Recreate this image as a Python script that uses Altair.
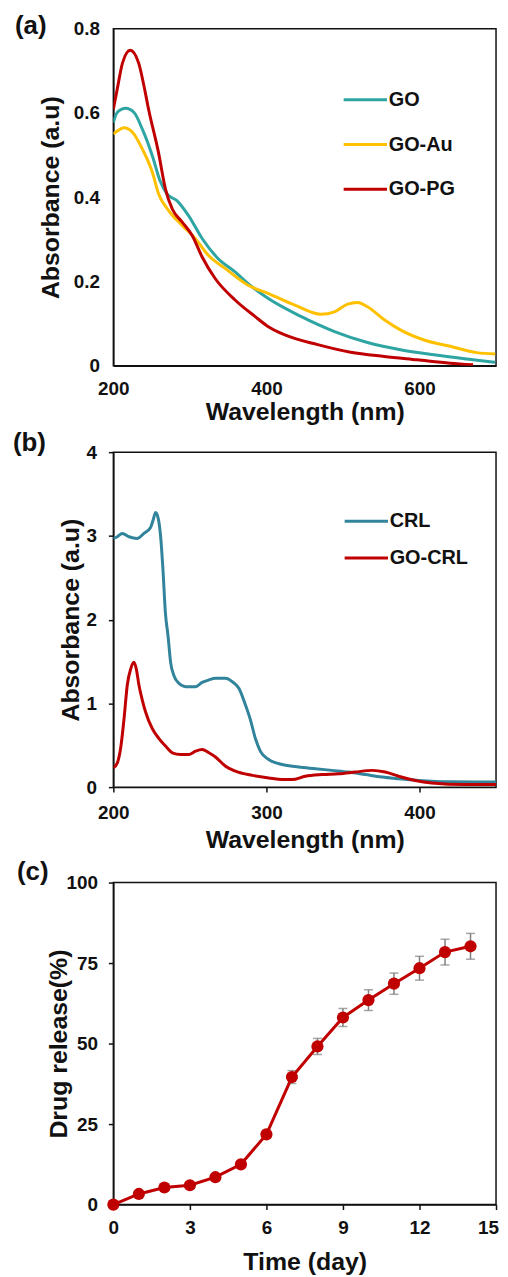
import altair as alt
import pandas as pd

FONT = "Liberation Sans"

# ---------------- Panel (a) ----------------
a_series = ["GO", "GO-Au", "GO-PG"]
a_colors = ["#2EA5A3", "#FFC000", "#C00000"]

go_wl = [200, 205, 216, 227, 238, 251, 261, 270, 283, 298, 316, 337, 359, 376, 402,
         445, 489, 532, 575, 619, 662, 699]
go_abs = [0.577, 0.601, 0.611, 0.601, 0.561, 0.498, 0.439, 0.408, 0.392, 0.357, 0.302,
          0.254, 0.223, 0.195, 0.160, 0.117, 0.081, 0.055, 0.038, 0.026, 0.016, 0.008]

goau_wl = [200, 205, 214, 225, 238, 251, 259, 272, 290, 307, 324, 346, 376, 402, 437,
           471, 489, 506, 519, 532, 554, 575, 606, 640, 675, 699]
goau_abs = [0.550, 0.557, 0.565, 0.554, 0.514, 0.459, 0.408, 0.369, 0.333, 0.302, 0.262,
            0.231, 0.191, 0.172, 0.144, 0.122, 0.128, 0.146, 0.150, 0.140, 0.109, 0.085,
            0.061, 0.046, 0.031, 0.028]

gopg_wl = [200, 205, 212, 222, 233, 240, 246, 259, 268, 277, 290, 303, 316, 333, 359,
           385, 402, 424, 467, 510, 554, 597, 640, 670]
gopg_abs = [0.609, 0.656, 0.719, 0.749, 0.719, 0.664, 0.609, 0.506, 0.420, 0.372, 0.341,
            0.309, 0.258, 0.207, 0.156, 0.117, 0.093, 0.073, 0.050, 0.032, 0.022, 0.014,
            0.006, 0.002]

# ---------------- Panel (b) ----------------
b_series = ["CRL", "GO-CRL"]
b_colors = ["#31849B", "#C00000"]

crl_wl = [200, 202.6, 205.9, 210.2, 215.7, 220, 224.3, 226, 227.6, 229.3, 230.9, 232.4,
          234, 235.7, 237.4, 239.6, 242.8, 247.2, 253.7, 258, 262.4, 266.7, 273.3, 277.6,
          282, 286.3, 289.6, 292.8, 296, 301.5, 310.2, 321, 332, 342.8, 353.7, 364.6,
          375.4, 386.3, 399.3, 418.9, 450]
crl_abs = [2.97, 2.99, 3.03, 2.99, 2.97, 3.03, 3.10, 3.19, 3.28, 3.21, 2.99, 2.60, 2.08,
           1.81, 1.49, 1.33, 1.24, 1.20, 1.20, 1.25, 1.28, 1.30, 1.30, 1.26, 1.18, 0.98,
           0.80, 0.58, 0.43, 0.33, 0.27, 0.24, 0.22, 0.20, 0.18, 0.15, 0.12, 0.10, 0.08,
           0.063, 0.06]

gocrl_wl = [200, 202.6, 204.8, 207, 209.1, 211.3, 213.5, 215, 216.7, 218.9, 221, 225.4,
            229.8, 234.1, 238.5, 243.9, 249.3, 253.7, 258, 262.4, 266.7, 273.3, 279.8,
            290.7, 301.5, 310.2, 316.7, 325.4, 336.3, 347.2, 358, 369, 377.6, 386.3,
            397.2, 408, 429.8, 450]
gocrl_abs = [0.23, 0.29, 0.47, 0.82, 1.22, 1.41, 1.49, 1.41, 1.22, 1.04, 0.90, 0.70, 0.58,
             0.49, 0.41, 0.39, 0.39, 0.43, 0.45, 0.41, 0.36, 0.25, 0.19, 0.14, 0.11, 0.09,
             0.09, 0.13, 0.15, 0.16, 0.18, 0.20, 0.18, 0.13, 0.08, 0.05, 0.03, 0.03]

# ---------------- Panel (c) ----------------
days = [0, 1, 2, 3, 4, 5, 6, 7, 8, 9, 10, 11, 12, 13, 14]
release = [0, 3.3, 5.3, 6.0, 8.5, 12.5, 21.8, 39.6, 49.1, 58.1, 63.5, 68.6, 73.4, 78.4, 80.2]
release_err = [0, 0.6, 0.6, 0.6, 0.8, 1.0, 1.2, 2.0, 2.5, 2.8, 3.2, 3.3, 3.7, 4.0, 4.0]

RED = "#C00000"


def frame(names, wls, vals):
    return pd.concat(
        [pd.DataFrame({"wl": w, "abs": v, "series": n}) for n, w, v in zip(names, wls, vals)],
        ignore_index=True,
    )


def panel_label(text, dx, dy):
    return alt.Chart(pd.DataFrame({"t": [text]})).mark_text(
        font=FONT, fontSize=26, fontWeight="bold", align="left", baseline="middle", color="#111"
    ).encode(text="t:N", x=alt.value(dx), y=alt.value(dy))


def spectra_legend(x, y, row_pad):
    return alt.Legend(
        orient="none", legendX=x, legendY=y, title=None, symbolType="stroke",
        symbolSize=1900, symbolStrokeWidth=3, labelFont=FONT, labelFontSize=20,
        labelFontWeight="bold", labelColor="#111", labelOffset=0, rowPadding=row_pad,
        padding=0,
    )


# Panel (a)
df_a = frame(a_series, [go_wl, goau_wl, gopg_wl], [go_abs, goau_abs, gopg_abs])
lines_a = alt.Chart(df_a).mark_line(strokeWidth=3, interpolate="monotone", clip=True).encode(
    x=alt.X("wl:Q", scale=alt.Scale(domain=[200, 700], nice=False),
            axis=alt.Axis(values=[200, 400, 600], title="Wavelength (nm)", ticks=False,
                          tickSize=0, labelPadding=14, titlePadding=1)),
    y=alt.Y("abs:Q", scale=alt.Scale(domain=[0, 0.8], nice=False),
            axis=alt.Axis(values=[0, 0.2, 0.4, 0.6, 0.8], format="~g", title="Absorbance (a.u)",
                          ticks=False, tickSize=0, labelPadding=14, titlePadding=10)),
    color=alt.Color("series:N", scale=alt.Scale(domain=a_series, range=a_colors),
                    sort=a_series, legend=spectra_legend(230, 48, 11)),
)
chart_a = alt.layer(lines_a, panel_label("(a)", -99, -3)).properties(width=385, height=339)

# Panel (b)
df_b = frame(b_series, [crl_wl, gocrl_wl], [crl_abs, gocrl_abs])
lines_b = alt.Chart(df_b).mark_line(strokeWidth=3, interpolate="monotone", clip=True).encode(
    x=alt.X("wl:Q", scale=alt.Scale(domain=[200, 450], nice=False),
            axis=alt.Axis(values=[200, 300, 400], title="Wavelength (nm)", tickSize=5,
                          labelPadding=12, titlePadding=5)),
    y=alt.Y("abs:Q", scale=alt.Scale(domain=[0, 4], nice=False),
            axis=alt.Axis(values=[0, 1, 2, 3, 4], title="Absorbance (a.u)", tickSize=5,
                          labelPadding=12, titlePadding=3)),
    color=alt.Color("series:N", scale=alt.Scale(domain=b_series, range=b_colors),
                    sort=b_series, legend=spectra_legend(231, 46, 3)),
)
chart_b = alt.layer(lines_b, panel_label("(b)", -101, -9)).properties(width=385, height=337)

# Panel (c)
df_c = pd.DataFrame({"day": days, "rel": release, "err": release_err})
df_c["lo"] = df_c["rel"] - df_c["err"]
df_c["hi"] = df_c["rel"] + df_c["err"]

xc = alt.X("day:Q", scale=alt.Scale(domain=[0, 15], nice=False),
           axis=alt.Axis(values=[0, 3, 6, 9, 12, 15], title="Time (day)", tickSize=5,
                         labelPadding=9, titlePadding=12,
                         labelOffset={"condition": {"test": "datum.value == 15", "value": -8},
                                      "value": 0}))
yc_axis = alt.Axis(values=[0, 25, 50, 75, 100], title="Drug release(%)", tickSize=5,
                   labelPadding=11, titlePadding=-6)
base_c = alt.Chart(df_c)
err_rule = base_c.mark_rule(color="#7F7F7F", strokeWidth=1.5).encode(
    x=xc, y=alt.Y("lo:Q", scale=alt.Scale(domain=[0, 100], nice=False), axis=yc_axis),
    y2="hi:Q")
cap_lo = base_c.mark_tick(color="#7F7F7F", orient="horizontal", size=9, thickness=1.5).encode(
    x=xc, y="lo:Q")
cap_hi = base_c.mark_tick(color="#7F7F7F", orient="horizontal", size=9, thickness=1.5).encode(
    x=xc, y="hi:Q")
line_c = base_c.mark_line(color=RED, strokeWidth=3).encode(x=xc, y="rel:Q")
pts_c = base_c.mark_circle(color=RED, size=150, opacity=1).encode(x=xc, y="rel:Q")
chart_c = alt.layer(err_rule, cap_lo, cap_hi, line_c, pts_c, panel_label("(c)", -97, -11)).properties(
    width=385, height=324)

chart = alt.vconcat(chart_a, chart_b, chart_c, spacing=4).resolve_scale(
    x="independent", y="independent", color="independent"
).resolve_legend(color="independent").properties(
    padding={"left": 4, "top": 0, "right": 0, "bottom": 0}
).configure_axis(
    labelFont=FONT, labelFontSize=19, labelFontWeight="bold", labelColor="#111",
    titleFont=FONT, titleFontSize=25, titleFontWeight="bold", titleColor="#111",
    labelFlush=False, grid=False, domainColor="#111", domainWidth=1.5,
    tickColor="#111", tickWidth=1.5,
).configure_view(stroke="#111", strokeWidth=1.5)

chart.save("out.html", embed_options={"renderer": "svg", "actions": False})
